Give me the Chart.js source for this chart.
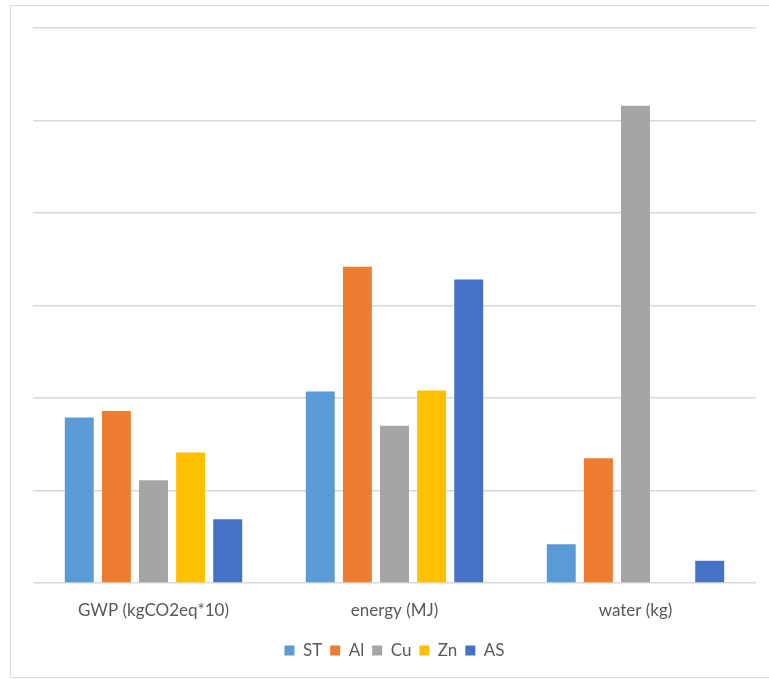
<!DOCTYPE html>
<html>
<head>
<meta charset="utf-8">
<script src="https://cdn.jsdelivr.net/npm/chart.js@4/dist/chart.umd.min.js"></script>
<style>
  html, body { margin: 0; padding: 0; background: #ffffff; overflow: hidden; }
  #frame {
    position: absolute; left: 10px; top: 5px; width: 800px; height: 673px;
    border: 1px solid #d9d9d9; box-sizing: border-box;
  }
  #wrap { position: absolute; left: 0; top: 0; width: 769px; height: 679px; }
</style>
</head>
<body>
<div id="frame"></div>
<div id="wrap"><canvas id="chart" width="769" height="679"></canvas></div>
<script>
// Impact categories on the x axis
const categories = ['GWP (kgCO2eq*10)', 'energy (MJ)', 'water (kg)'];

// One series per material
const seriesNames = ['ST', 'Al', 'Cu', 'Zn', 'AS'];
const stValues = [17.9, 20.7, 4.2];
const alValues = [18.6, 34.2, 13.5];
const cuValues = [11.1, 17.0, 51.6];
const znValues = [14.1, 20.8, null];
const asValues = [6.9, 32.8, 2.4];

// Value axis range (no tick labels shown, only gridlines)
const yMin = 0;
const yMax = 60;
const yStep = 10;

const colors = ['#5B9BD5', '#ED7D31', '#A5A5A5', '#FFC000', '#4472C4'];
const seriesValues = [stValues, alValues, cuValues, znValues, asValues];

const datasets = seriesNames.map((name, i) => ({
  label: name,
  data: seriesValues[i],
  backgroundColor: colors[i],
  borderWidth: 0,
  categoryPercentage: 0.77,
  barPercentage: 0.78
}));

const FONT = 'Lato, "Open Sans", "Liberation Sans", sans-serif';
const TEXT = '#595959';

new Chart(document.getElementById('chart'), {
  type: 'bar',
  data: { labels: categories, datasets },
  options: {
    responsive: false,
    animation: false,
    devicePixelRatio: 1,
    layout: { padding: { left: 33, right: 13, top: 28, bottom: 10 } },
    plugins: {
      tooltip: { enabled: false },
      legend: {
        position: 'bottom',
        labels: {
          boxWidth: 10,
          boxHeight: 10,
          padding: 8,
          color: TEXT,
          font: { family: FONT, size: 17 }
        }
      }
    },
    scales: {
      x: {
        grid: { display: false },
        border: { display: false },
        ticks: { color: TEXT, padding: 9, font: { family: FONT, size: 17 } },
        afterFit: (scale) => { scale.height = 51; }
      },
      y: {
        min: yMin,
        max: yMax,
        ticks: { display: false, stepSize: yStep },
        border: { display: false },
        grid: { color: '#d9d9d9', lineWidth: 1.5, drawTicks: false }
      }
    }
  }
});
</script>
</body>
</html>
